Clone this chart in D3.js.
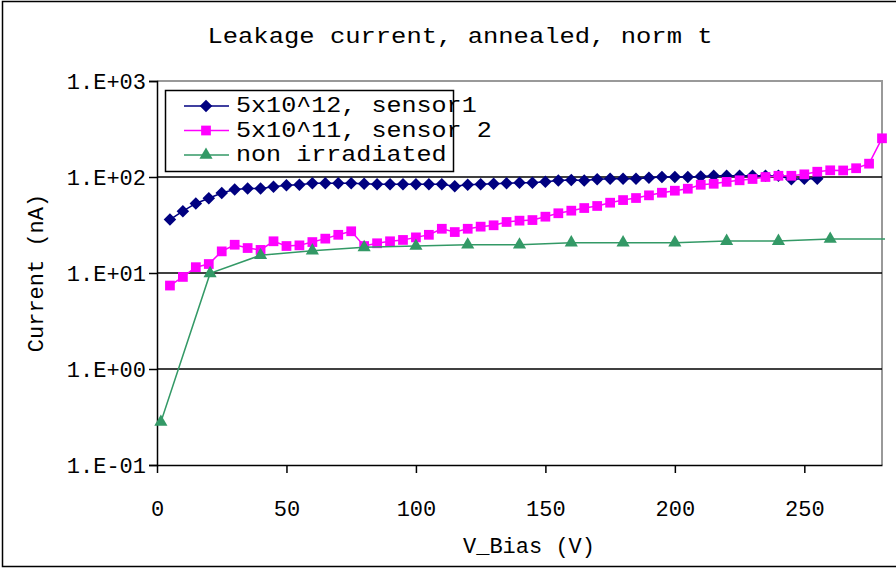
<!DOCTYPE html>
<html>
<head>
<meta charset="utf-8">
<script src="https://cdn.jsdelivr.net/npm/d3@7"></script>
<style>
  body { margin: 0; background: #fff; }
  text { font-family: "Courier New", "Liberation Mono", monospace; fill: #000; }
</style>
</head>
<body>
<div id="chart"></div>
<script>
// Datos
const vSensor1 = [5,10,15,20,25,30,35,40,45,50,55,60,65,70,75,80,85,90,95,100,105,110,115,120,125,130,135,140,145,150,155,160,165,170,175,180,185,190,195,200,205,210,215,220,225,230,235,240,245,250,255]
const iSensor1 = [36,44,53,60,68,74,76,76,79,82,83,86,86,86,86,85,84,84,84,84,84,84,80,83,84,85,86,87,87,89,92,93,92,95,96,96,96,98,100,100,100,101,103,103,103,103,103,103,95,96,96]

const vSensor2 = [5,10,15,20,25,30,35,40,45,50,55,60,65,70,75,80,85,90,95,100,105,110,115,120,125,130,135,140,145,150,155,160,165,170,175,180,185,190,195,200,205,210,215,220,225,230,235,240,245,250,255,260,265,270,275,280]
const iSensor2 = [7.4,9.1,11.5,12.4,16.8,19.7,18.2,17.4,21.4,19.1,19.4,21,22.8,25,27.2,19.1,20.4,21.4,22.1,23.5,25,28.9,26.7,28.9,30.4,31.4,34,35.1,35.6,38.6,41.9,44.6,47.5,49.9,54,57.5,60.4,64.4,68.6,72,75.5,83,85,89,92.4,95.3,100,103,103,106.6,113.5,117.4,117,123.4,137.7,253]

const vNonIrr = [1.5,20.5,40,60,80,100,120,140,160,180,200,220,240,260,290]
const iNonIrr = [0.28,9.9,15.3,17.1,18.5,19.1,19.7,19.7,20.7,20.7,20.7,21.5,21.5,22.6,22.6]

const yTicks = [0.1, 1, 10, 100, 1000]
const yTickLabels = ["1.E-01", "1.E+00", "1.E+01", "1.E+02", "1.E+03"]
const xTicks = [0, 50, 100, 150, 200, 250]

const series = [
  { nombre: "5x10^12, sensor1", v: vSensor1, i: iSensor1, color: "#000080", simbolo: d3.symbolDiamond2, tam: 100 },
  { nombre: "5x10^11, sensor 2", v: vSensor2, i: iSensor2, color: "#ff00ff", simbolo: d3.symbolSquare, tam: 95 },
  { nombre: "non irradiated", v: vNonIrr, i: iNonIrr, color: "#339966", simbolo: d3.symbolTriangle, tam: 75 }
]

const ancho = 896, alto = 569
const izq = 157, der = 882, arriba = 81, abajo = 465

const svg = d3.select("#chart")
  .append("svg")
  .attr("width", ancho)
  .attr("height", alto)

// Marco exterior
svg.append("rect")
  .attr("x", 2.5).attr("y", 1.5)
  .attr("width", ancho + 5).attr("height", alto - 4)
  .attr("fill", "none")
  .attr("stroke", "#000")
  .attr("stroke-width", 1.5)

// Escaladores
const x = d3.scaleLinear().domain([0, 280]).range([izq, der])
const y = d3.scaleLog().domain([0.1, 1000]).range([abajo, arriba])

// Titulo (estirado un poco a lo ancho como en el original)
svg.append("text")
  .attr("transform", "translate(460,37) scale(1.16,1)")
  .attr("text-anchor", "middle")
  .attr("dominant-baseline", "central")
  .style("font-size", "22px")
  .text("Leakage current, annealed, norm t")

// Borde del area de dibujo (gris arriba y derecha)
svg.append("path")
  .attr("d", `M${izq},${arriba}H${der}V${abajo}`)
  .attr("fill", "none")
  .attr("stroke", "#999")
  .attr("stroke-width", 2)

// Lineas de rejilla
svg.append("g")
  .selectAll("line")
  .data(yTicks.slice(1, 4))
  .join("line")
  .attr("x1", izq).attr("x2", der)
  .attr("y1", d => y(d)).attr("y2", d => y(d))
  .attr("stroke", "#000")
  .attr("stroke-width", 1.5)

// Eje Y
const ejeY = svg.append("g")
  .attr("transform", `translate(${izq},0)`)
  .call(d3.axisLeft(y).tickValues(yTicks).tickSize(8).tickPadding(3)
        .tickFormat((d, i) => yTickLabels[i]))
ejeY.select(".domain").attr("stroke-width", 1.5)
ejeY.selectAll("line").attr("stroke-width", 1.5)
ejeY.selectAll("text")
  .style("font-size", "22px")
  .style("font-family", "'Courier New', 'Liberation Mono', monospace")

// Eje X
const ejeX = svg.append("g")
  .attr("transform", `translate(0,${abajo})`)
  .call(d3.axisBottom(x).tickValues(xTicks).tickSize(8).tickPadding(27)
        .tickSizeOuter(0))
ejeX.select(".domain").attr("stroke-width", 1.5)
ejeX.selectAll("line").attr("stroke-width", 1.5)
ejeX.selectAll("text")
  .style("font-size", "22px")
  .style("font-family", "'Courier New', 'Liberation Mono', monospace")

// Titulos de ejes
svg.append("text")
  .attr("x", 529).attr("y", 547)
  .attr("text-anchor", "middle")
  .attr("dominant-baseline", "central")
  .style("font-size", "22px")
  .text("V_Bias (V)")

svg.append("text")
  .attr("transform", "translate(37,273) rotate(-90)")
  .attr("text-anchor", "middle")
  .attr("dominant-baseline", "central")
  .style("font-size", "22px")
  .text("Current (nA)")

// Recorte para las lineas
svg.append("clipPath")
  .attr("id", "recorte")
  .append("rect")
  .attr("x", izq).attr("y", arriba - 80)
  .attr("width", der - izq + 3).attr("height", abajo - arriba + 80)

const linea = d3.line()
  .x(d => x(d[0]))
  .y(d => y(d[1]))

const grupos = svg.append("g")
  .selectAll("g")
  .data(series)
  .join("g")

grupos.append("path")
  .attr("clip-path", "url(#recorte)")
  .attr("d", s => linea(s.v.map((v, k) => [v, s.i[k]])))
  .attr("fill", "none")
  .attr("stroke", s => s.color)
  .attr("stroke-width", 1.5)

grupos.each(function (s) {
  const puntos = s.v.map((v, k) => [v, s.i[k]]).filter(p => p[0] <= 280)
  d3.select(this)
    .selectAll("path.marca")
    .data(puntos)
    .join("path")
    .attr("class", "marca")
    .attr("transform", p => `translate(${x(p[0])},${y(p[1])})`)
    .attr("d", d3.symbol(s.simbolo, s.tam))
    .attr("fill", s.color)
})

// Leyenda
const leyenda = svg.append("g")
leyenda.selectAll("g")
  .data(series)
  .join("g")
  .attr("transform", (s, k) => `translate(0,${106 + k * 24.5})`)
  .each(function (s) {
    const g = d3.select(this)
    g.append("line")
      .attr("x1", 184).attr("x2", 229)
      .attr("stroke", s.color).attr("stroke-width", 1.5)
    g.append("path")
      .attr("transform", "translate(206,0)")
      .attr("d", d3.symbol(s.simbolo, s.tam))
      .attr("fill", s.color)
    g.append("text")
      .attr("transform", "translate(236,0) scale(1.14,1)")
      .attr("dominant-baseline", "central")
      .style("font-size", "22px")
      .text(s.nombre)
  })

leyenda.append("rect")
  .attr("x", 165.5).attr("y", 90.5)
  .attr("width", 288).attr("height", 81)
  .attr("fill", "none")
  .attr("stroke", "#000")
  .attr("stroke-width", 1.5)
</script>
</body>
</html>
